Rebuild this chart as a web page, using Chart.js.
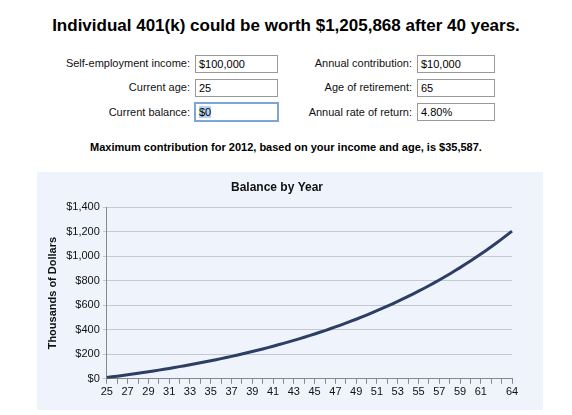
<!DOCTYPE html><html><head><meta charset="utf-8">
<script src="https://cdn.jsdelivr.net/npm/chart.js@4/dist/chart.umd.min.js"></script>
<style>
body{margin:0;width:572px;height:415px;background:#fff;font-family:"Liberation Sans",Arial,sans-serif;position:relative;overflow:hidden}
.t{position:absolute;white-space:nowrap}
.lab{position:absolute;font-size:11px;color:#111;text-align:right;width:180px}
.inp{position:absolute;height:16px;border:1px solid #999;font-size:11px;line-height:16px;padding-left:3px;box-sizing:content-box;background:#fff}
#panel{position:absolute;left:37px;top:172px;width:506px;height:238px;background:#eef3fc}
</style></head><body>
<div class="t" style="left:0;width:572px;text-align:center;top:16px;font-size:17px;font-weight:bold">Individual 401(k) could be worth $1,205,868 after 40 years.</div>
<div class="lab" style="left:10px;top:57px">Self-employment income:</div>
<div class="inp" style="left:195px;top:55px;width:78px">$100,000</div>
<div class="lab" style="left:10px;top:81px">Current age:</div>
<div class="inp" style="left:195px;top:79px;width:78px">25</div>
<div class="lab" style="left:10px;top:106px">Current balance:</div>
<div class="inp" style="left:195px;top:103px;width:78px;border:2px solid #7aa6d8;left:194px;top:102px"><span style="background:#b5d3f3">$0</span></div>
<div class="lab" style="left:232px;top:57px">Annual contribution:</div>
<div class="inp" style="left:417px;top:55px;width:73px">$10,000</div>
<div class="lab" style="left:232px;top:81px">Age of retirement:</div>
<div class="inp" style="left:417px;top:79px;width:73px">65</div>
<div class="lab" style="left:232px;top:106px">Annual rate of return:</div>
<div class="inp" style="left:417px;top:103px;width:73px">4.80%</div>
<div class="t" style="left:0;width:572px;text-align:center;top:141px;font-size:11px;font-weight:bold">Maximum contribution for 2012, based on your income and age, is $35,587.</div>
<div id="panel"><canvas id="c" width="506" height="238"></canvas></div>
<script>
const ages=[25,26,27,28,29,30,31,32,33,34,35,36,37,38,39,40,41,42,43,44,45,46,47,48,49,50,51,52,53,54,55,56,57,58,59,60,61,62,63,64];
const balances=[10.5,21.5,33.0,45.0,57.7,70.9,84.8,99.4,114.6,130.6,147.3,164.9,183.3,202.6,222.8,243.9,266.1,289.4,313.7,339.3,366.0,394.1,423.5,454.3,486.6,520.4,555.9,593.0,632.0,672.8,715.5,760.4,807.4,856.6,908.2,962.3,1018.9,1078.3,1140.6,1205.9];
const shownAges=[25,27,29,31,33,35,37,39,41,43,45,47,49,51,53,55,57,59,61,64];
const F="'Liberation Sans',Arial,sans-serif";
new Chart(document.getElementById('c'),{type:'line',
data:{labels:ages,datasets:[{data:balances,borderColor:'#2c3e63',borderWidth:3,pointRadius:0,tension:0.2}]},
options:{responsive:false,animation:false,layout:{padding:{top:4,right:31,bottom:9,left:5}},
plugins:{legend:{display:false},tooltip:{enabled:false},title:{display:true,text:'Balance by Year',color:'#111',font:{family:F,size:12,weight:'bold'},padding:{top:4,bottom:13}}},
scales:{x:{offset:false,grid:{display:true,drawOnChartArea:false,color:'#888',tickLength:5},border:{color:'#888'},
ticks:{autoSkip:false,maxRotation:0,color:'#111',font:{family:F,size:11},padding:2,callback:function(v,i){return shownAges.includes(ages[i])?String(ages[i]):'';}}},
y:{min:0,max:1400,border:{color:'#888'},grid:{color:'#c4c8d0',tickLength:4},
ticks:{stepSize:200,color:'#111',font:{family:F,size:11},callback:v=>'$'+v.toLocaleString('en-US')},
title:{display:true,text:'Thousands of Dollars',color:'#111',font:{family:F,size:11,weight:'bold'}}}}}});
</script></body></html>
